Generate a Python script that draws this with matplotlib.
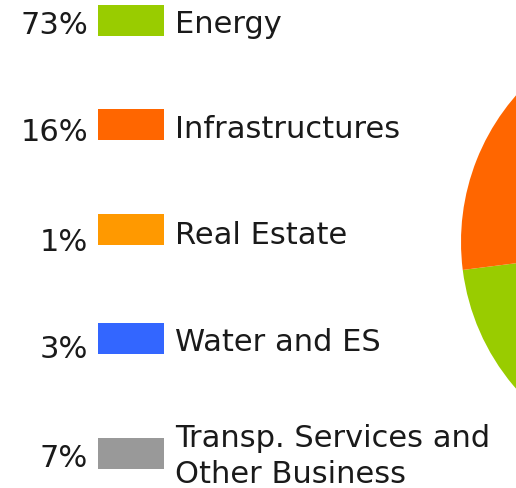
import matplotlib
matplotlib.use("Agg")
import matplotlib.pyplot as plt
from matplotlib.patches import Rectangle

# 資料
labels = ["Energy", "Infrastructures", "Real Estate", "Water and ES",
          "Transp. Services and\nOther Business"]
values = [73, 16, 1, 3, 7]
colors = ["#99CC00", "#FF6600", "#FF9900", "#3366FF", "#999999"]

W, H = 516, 489
fig = plt.figure(figsize=(W / 100, H / 100), dpi=100)
ax = fig.add_axes([0, 0, 1, 1])

# 圓餅圖 (大部分在畫面右側之外)
ax.pie(values, colors=colors, startangle=90, counterclock=False,
       center=(684, H - 243), radius=223,
       wedgeprops={"linewidth": 0, "antialiased": True})
ax.set_xlim(0, W)
ax.set_ylim(0, H)
ax.set_aspect("equal")
ax.axis("off")

# 圖例位置 (像素, 由上往下)
sw_top = [6, 110, 215, 324, 439]
pct_base = [34, 141, 251, 358, 467]
lab_base = [33, 138, 244, 351, 447]
fs = 22

for i in range(len(values)):
    ax.add_patch(Rectangle((98, H - sw_top[i] - 31), 66, 31,
                           color=colors[i], lw=0))
    ax.text(88, H - pct_base[i], "%d%%" % values[i], fontsize=fs,
            ha="right", va="baseline", color="#1a1a1a")
    for j, line in enumerate(labels[i].split("\n")):
        ax.text(175, H - lab_base[i] - 36 * j, line, fontsize=fs,
                ha="left", va="baseline", color="#1a1a1a")

fig.savefig("out.png", dpi=100)
